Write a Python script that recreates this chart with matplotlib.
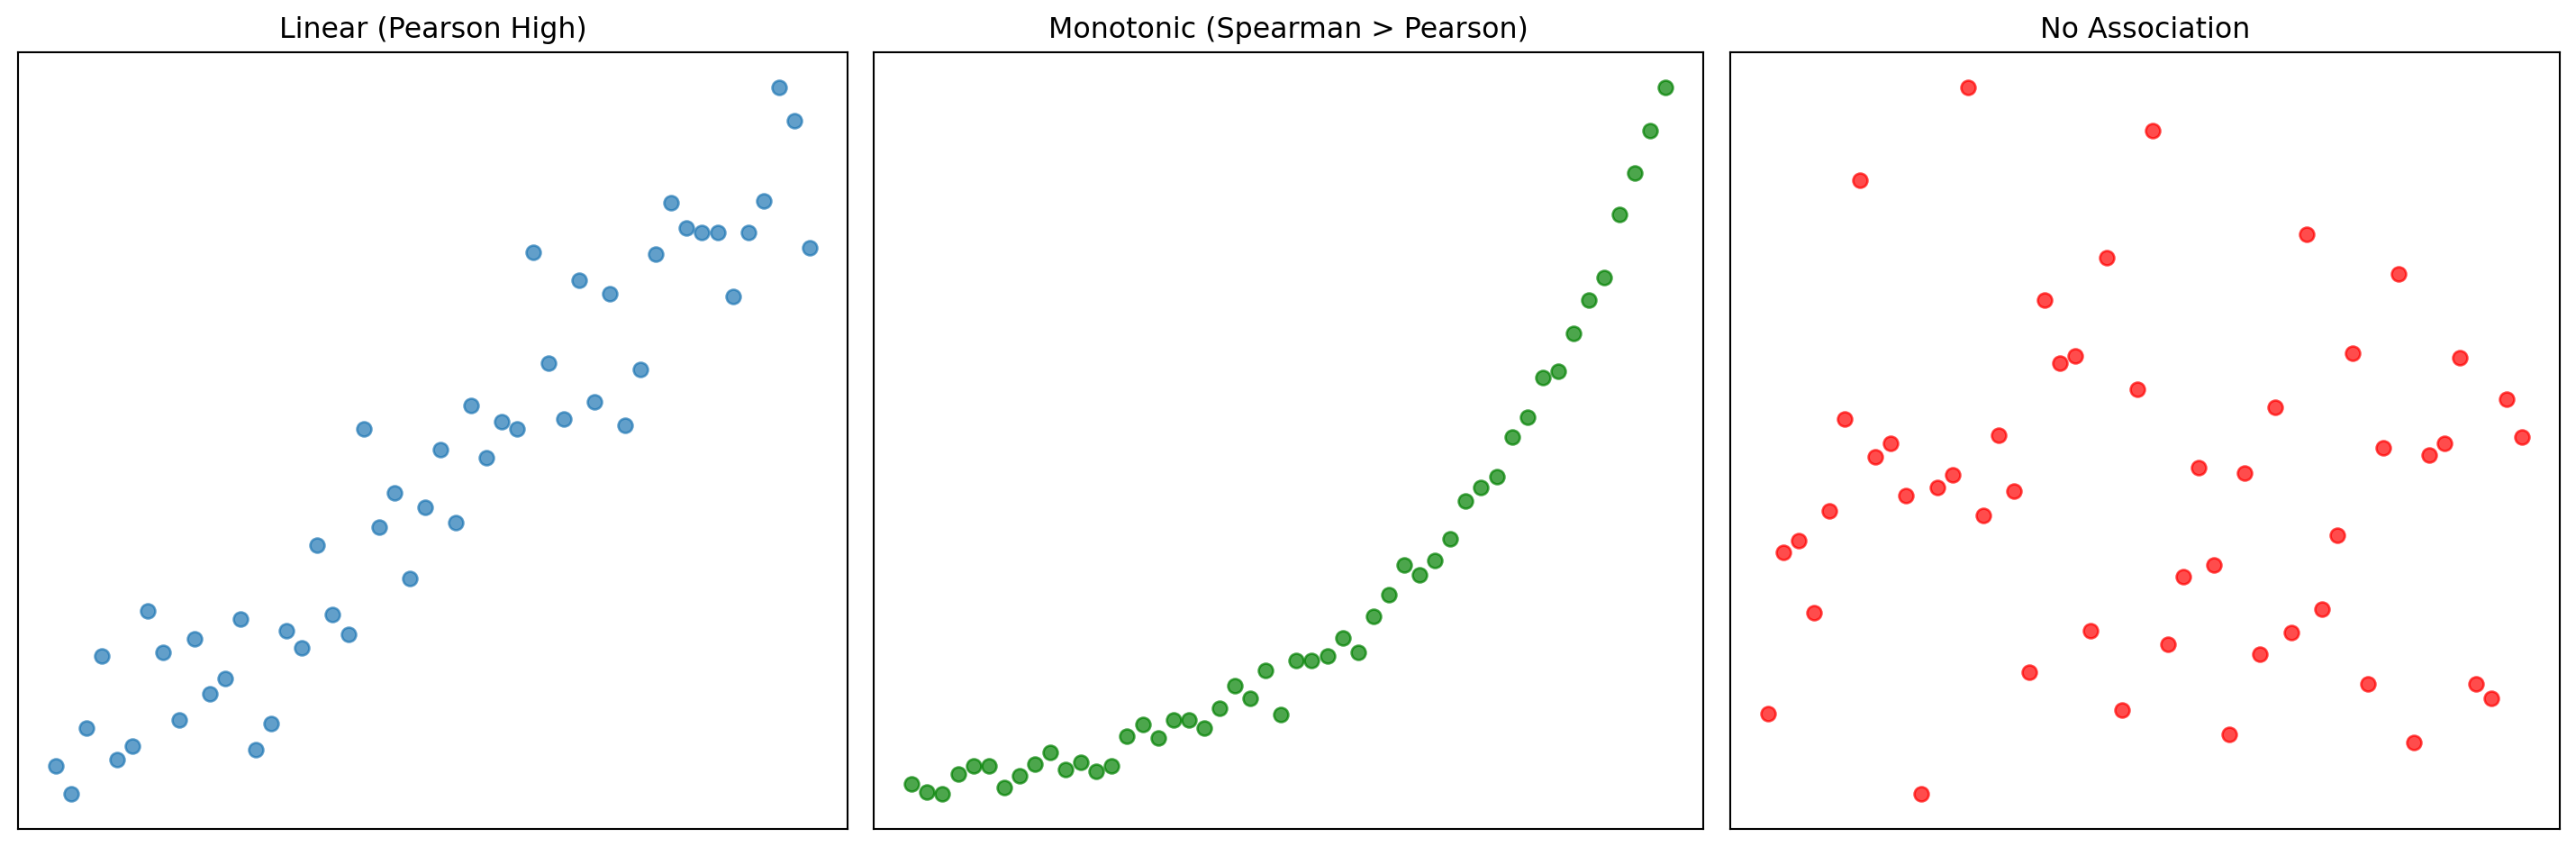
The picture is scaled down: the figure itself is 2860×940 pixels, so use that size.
import numpy as np
import matplotlib.pyplot as plt

# x positions: 50 evenly spaced samples
x = np.linspace(0, 10, 50)

# y values (arbitrary units, higher = up)
y_linear = [34, 17, 57, 101, 38, 46, 128, 103, 62, 111,
            78, 87, 123, 44, 60, 116, 106, 168, 126, 114,
            239, 179, 200, 148, 191, 226, 182, 253, 221, 243,
            239, 346, 279, 245, 329, 255, 321, 241, 275, 345,
            376, 361, 358, 358, 319, 358, 377, 446, 426, 349]

y_monotonic = [23, 18, 17, 29, 34, 34, 21, 28, 35, 42,
               32, 36, 31, 34, 52, 59, 51, 62, 62, 57,
               69, 83, 75, 92, 65, 98, 98, 101, 112, 103,
               125, 138, 156, 150, 159, 172, 195, 203, 210, 234,
               246, 270, 274, 297, 317, 331, 369, 394, 420, 446]

y_none = [66, 164, 171, 127, 189, 245, 390, 222, 230, 198,
          17, 203, 211, 446, 186, 235, 201, 91, 317, 279,
          283, 116, 343, 68, 263, 420, 108, 149, 215, 156,
          53, 212, 102, 252, 115, 357, 129, 174, 285, 84,
          227, 333, 48, 223, 230, 282, 84, 75, 257, 234]

titles = ['Linear (Pearson High)', 'Monotonic (Spearman > Pearson)', 'No Association']
series = [y_linear, y_monotonic, y_none]
colors = ['tab:blue', 'green', 'red']

fig, axes = plt.subplots(1, 3, figsize=(2860 / 190, 940 / 190), dpi=190)
for ax, y, title, c in zip(axes, series, titles, colors):
    ax.scatter(x, y, color=c, alpha=0.7)
    ax.set_title(title, fontsize=12)
    ax.set_xticks([])
    ax.set_yticks([])
plt.subplots_adjust(left=0.007, right=0.9936, top=0.938, bottom=0.021, wspace=0.032)
plt.savefig('out.png')
